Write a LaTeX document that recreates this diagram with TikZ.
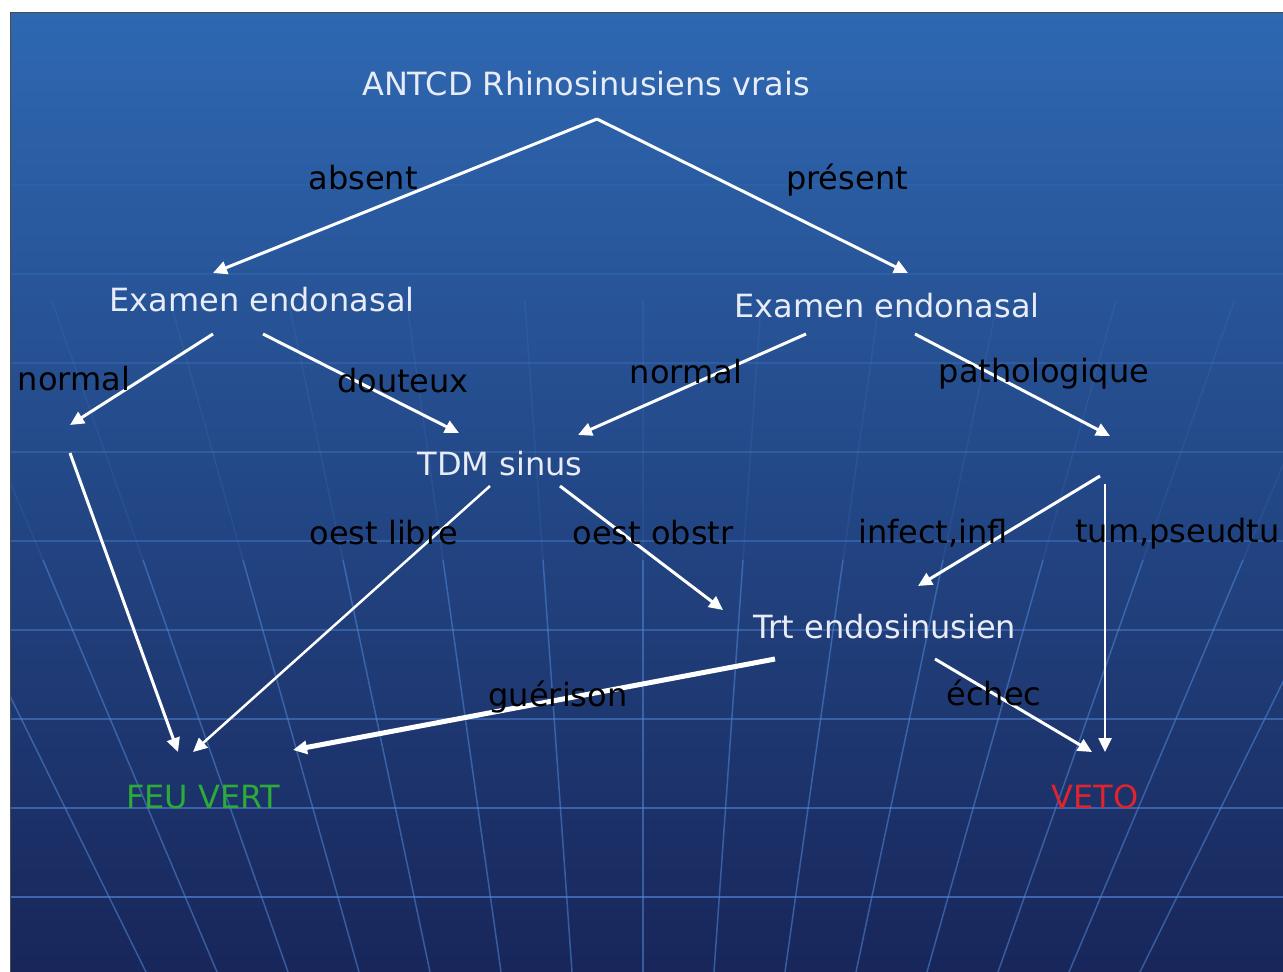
\documentclass[tikz,border=0pt]{standalone}
\usepackage{fontspec}
\setmainfont{DejaVu Sans}
\usetikzlibrary{arrows.meta}

\definecolor{fondhaut}{RGB}{46,104,178}
\definecolor{fondmilieu}{RGB}{36,90,170}
\definecolor{fondbas}{RGB}{24,38,90}
\definecolor{ligne}{RGB}{80,135,215}
\definecolor{blanc}{RGB}{232,236,246}
\definecolor{vert}{RGB}{45,170,55}
\definecolor{rouge}{RGB}{225,35,45}

\tikzset{
  texte/.style={anchor=base, inner sep=0pt, font=\fontsize{32}{38}\selectfont},
  titre/.style={texte, text=blanc},
  etiq/.style={texte, text=black},
  fleche/.style={draw=white, line width=3pt, -{Triangle[length=14pt,width=13pt]}},
  grille/.style={draw=ligne, line width=1.5pt},
}

\begin{document}
\begin{tikzpicture}[x=1pt,y=-1pt]
	\useasboundingbox (0,0) rectangle (1283,972);
	\fill[white] (0,0) rectangle (1283,972);
	
	% Fond
	\begin{scope}
		\clip (10,12) rectangle (1283,972);
		\shade[top color=fondhaut, middle color=fondmilieu, bottom color=fondbas] (10,12) rectangle (1283,972);
		\foreach \y in {185,274,...,900}{
			\pgfmathsetmacro\op{0.1+0.55*(\y-185)/712}
			\draw[grille, opacity=\op] (10,\y) -- (1283,\y);
		}
		\foreach \k in {-7,...,7}{
			\draw[grille, opacity=0.15] ({643+\k*118.3},300) -- ({643+\k*100},560);
			\draw[grille, opacity=0.55] ({643+\k*100},560) -- ({643+\k*71},972);
		}
	\end{scope}
	\draw[gray!60!black, line width=1pt] (10,972) -- (10,12) -- (1283,12);
	
	% Noeuds
	\node[titre] (racine) at (586,95) {ANTCD Rhinosinusiens vrais};
	\node[titre] (examG) at (262,311) {Examen endonasal};
	\node[titre] (examD) at (887,317) {Examen endonasal};
	\node[titre] (tdm) at (500,475) {TDM sinus};
	\node[titre] (trt) at (885,638) {Trt endosinusien};
	\node[titre, text=vert] (feu) at (203,808) {FEU VERT};
	\node[titre, text=rouge] (veto) at (1095,808) {VETO};
	\coordinate (normG) at (70,439);
	\coordinate (patho) at (1105,456);
	
	% Fleches
	\draw[fleche] ([xshift=11pt,yshift=-24pt]racine.base) -- ([xshift=-49pt,yshift=38pt]examG.base);
	\draw[fleche] ([xshift=11pt,yshift=-24pt]racine.base) -- ([xshift=21pt,yshift=44pt]examD.base);
	\draw[fleche] ([xshift=-49pt,yshift=-23pt]examG.base) -- ([yshift=14pt]normG);
	\draw[fleche] ([xshift=1pt,yshift=-23pt]examG.base) -- ([xshift=-41pt,yshift=42pt]tdm.base);
	\draw[fleche] ([xshift=-81pt,yshift=-17pt]examD.base) -- ([xshift=78pt,yshift=40pt]tdm.base);
	\draw[fleche] ([xshift=28pt,yshift=-17pt]examD.base) -- ([xshift=5pt,yshift=20pt]patho);
	\draw[fleche] ([yshift=-14pt]normG) -- ([xshift=-25pt,yshift=56pt]feu.base);
	\draw[fleche, line width=2.5pt] ([xshift=-10pt,yshift=-11pt]tdm.base) -- ([xshift=-10pt,yshift=56pt]feu.base);
	\draw[fleche] ([xshift=60pt,yshift=-11pt]tdm.base) -- ([xshift=-162pt,yshift=28pt]trt.base);
	\draw[fleche] ([xshift=-5pt,yshift=-20pt]patho) -- ([xshift=33pt,yshift=52pt]trt.base);
	\draw[fleche, line width=2.5pt] ([yshift=-28pt]patho) -- ([xshift=10pt,yshift=56pt]veto.base);
	\draw[fleche, line width=5pt] ([xshift=-110pt,yshift=-21pt]trt.base) -- ([xshift=90pt,yshift=58pt]feu.base);
	\draw[fleche] ([xshift=50pt,yshift=-21pt]trt.base) -- ([xshift=-3pt,yshift=56pt]veto.base);
	
	% Etiquettes
	\node[etiq] (absent) at (363,189) {absent};
	\node[etiq] (present) at (847,189) {présent};
	\node[etiq] (normalG) at (74,390) {normal};
	\node[etiq] (douteux) at (403,392) {douteux};
	\node[etiq] (normalD) at (686,383) {normal};
	\node[etiq] (patholo) at (1044,382) {pathologique};
	\node[etiq] (libre) at (384,544) {oest libre};
	\node[etiq] (obstr) at (653,544) {oest obstr};
	\node[etiq] (infect) at (933,543) {infect,infl};
	\node[etiq, anchor=base west] (tumeur) at (1075,542) {tum,pseudtu};
	\node[etiq] (guerison) at (558,706) {guérison};
	\node[etiq] (echec) at (994,705) {échec};
\end{tikzpicture}
\end{document}
